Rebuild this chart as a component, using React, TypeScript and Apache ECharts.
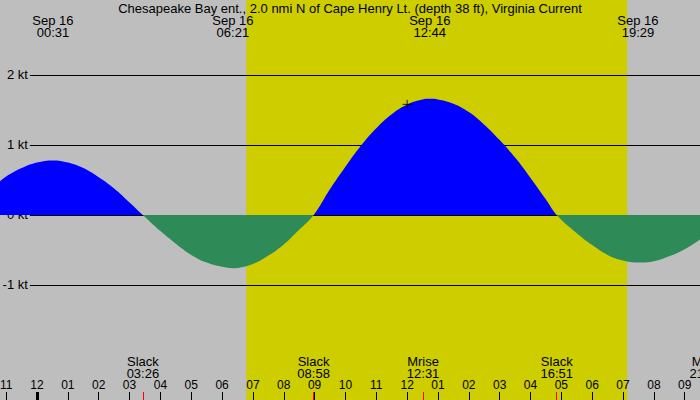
import React, { useEffect, useRef } from 'react';
import * as echarts from 'echarts';

const title = 'Chesapeake Bay ent., 2.0 nmi N of Cape Henry Lt. (depth 38 ft), Virginia Current';

// current speed in knots, hours from midnight Sep 16 (negative = evening of Sep 15)
const hours = [
    -1.2, -1, -0.5, 0, 0.52, 1, 1.5, 2, 2.5, 3,
    3.43, 4, 4.5, 5, 5.5, 6, 6.35, 7, 7.5, 8,
    8.5, 8.97, 9.5, 10, 10.5, 11, 11.5, 12, 12.5, 12.73,
    13, 13.5, 14, 14.5, 15, 15.5, 16, 16.5, 16.85, 17.5,
    18, 18.5, 19, 19.48, 20, 20.5, 21, 21.5, 22
];
const knots = [
    0.48, 0.55, 0.67, 0.75, 0.78, 0.75, 0.67, 0.54, 0.38, 0.18,
    0, -0.23, -0.41, -0.57, -0.68, -0.74, -0.76, -0.70, -0.58, -0.42,
    -0.21, 0, 0.37, 0.69, 0.99, 1.24, 1.44, 1.58, 1.65, 1.66,
    1.65, 1.59, 1.47, 1.29, 1.07, 0.82, 0.53, 0.22, 0, -0.26,
    -0.43, -0.57, -0.65, -0.68, -0.66, -0.59, -0.49, -0.35, -0.19
];

// max flood / ebb times shown along the top
const maxDate = 'Sep 16';
const maxTimes = [0.517, 6.35, 12.733, 19.483];
const maxClocks = ['00:31', '06:21', '12:44', '19:29'];

// slack and moon events shown along the bottom
const eventTimes = [3.433, 8.967, 12.517, 16.85, 21.683];
const eventNames = ['Slack', 'Slack', 'Mrise', 'Slack', 'Mset'];
const eventClocks = ['03:26', '08:58', '12:31', '16:51', '21:41'];

const sunrise = 6.783;
const sunset = 19.133;

const hourTicks = [-1, 0, 1, 2, 3, 4, 5, 6, 7, 8, 9, 10, 11, 12, 13, 14, 15, 16, 17, 18, 19, 20, 21, 22];
const midnightTicks = [0];
const knotTicks = [2, 1, 0, -1];

const markerTime = 12;
const markerKnots = 1.58;

// grid is a bit wider than the page so that the last labels get cut at the edge
const X_MIN = -1.2;
const X_MAX = 22.5;
const GRID_W = 731;
const Y_MIN = -2.643;
const Y_MAX = 3.071;
const CHART_H = 400;
const LINE_START = -0.23;
const FONT = 'Liberation Sans';
const FLOOD = '#0000FF';
const EBB = '#2E8B57';

const pad2 = (n: number) => (n < 10 ? '0' + n : '' + n);
const fmtHour = (v: number) => {
    const h = ((Math.round(v) % 12) + 12) % 12;
    return pad2(h === 0 ? 12 : h);
};
const findIdx = (arr: number[], v: number) => arr.findIndex((t) => Math.abs(t - v) < 1e-6);

const ChesapeakeCurrent: React.FC = () => {
    const chartRef = useRef<HTMLDivElement>(null);

    useEffect(() => {
        document.body.style.margin = '0';
        if (!chartRef.current) return;
        const myChart = echarts.init(chartRef.current, undefined, { renderer: 'svg' });

        // flood above the zero line, ebb below it
        const zeroAt = Y_MAX / (Y_MAX - Y_MIN);
        const fill = new echarts.graphic.LinearGradient(0, 0, 0, CHART_H, [
            { offset: 0, color: FLOOD },
            { offset: zeroAt, color: FLOOD },
            { offset: zeroAt, color: EBB },
            { offset: 1, color: EBB },
        ], true);

        const baseX = {
            type: 'value' as const,
            min: X_MIN,
            max: X_MAX,
            z: 10,
            axisLine: { show: false, onZero: false },
            splitLine: { show: false },
        };
        const labelText = { color: '#000', fontFamily: FONT, fontSize: 13 };

        const option: any = {
            animation: false,
            backgroundColor: '#BEBEBE',
            title: {
                text: title,
                left: 'center',
                top: 2,
                padding: 0,
                textStyle: { ...labelText, fontWeight: 'normal' },
            },
            grid: { left: 0, top: 0, width: GRID_W, height: CHART_H, containLabel: false, outerBoundsMode: 'none' },
            xAxis: [
                {
                    ...baseX,
                    position: 'bottom',
                    axisTick: { inside: true, length: 8, lineStyle: { color: '#000' }, customValues: hourTicks },
                    axisLabel: {
                        inside: true, margin: 9, customValues: hourTicks,
                        formatter: fmtHour, ...labelText, fontSize: 12,
                    },
                },
                {
                    ...baseX,
                    position: 'bottom',
                    axisTick: { inside: true, length: 8, lineStyle: { color: '#FF0000' }, customValues: eventTimes },
                    axisLabel: {
                        inside: true, margin: 21, customValues: eventTimes, lineHeight: 12,
                        formatter: (v: number) => {
                            const i = findIdx(eventTimes, v);
                            return i < 0 ? '' : eventNames[i] + '\n' + eventClocks[i];
                        },
                        ...labelText,
                    },
                },
                {
                    ...baseX,
                    position: 'bottom',
                    axisTick: { inside: true, length: 8, lineStyle: { color: '#000', width: 3 }, customValues: midnightTicks },
                    axisLabel: { show: false },
                },
                {
                    ...baseX,
                    position: 'top',
                    axisTick: { show: false },
                    axisLabel: {
                        inside: true, margin: 14, customValues: maxTimes, lineHeight: 12,
                        formatter: (v: number) => {
                            const i = findIdx(maxTimes, v);
                            return i < 0 ? '' : maxDate + '\n' + maxClocks[i];
                        },
                        ...labelText,
                    },
                },
            ],
            yAxis: { type: 'value', min: Y_MIN, max: Y_MAX, show: false },
            series: [
                {
                    name: 'Current',
                    type: 'line',
                    data: hours.map((h, i) => [h, knots[i]]),
                    smooth: 0.4,
                    showSymbol: false,
                    silent: true,
                    z: 3,
                    lineStyle: { opacity: 0 },
                    areaStyle: { opacity: 1, color: fill, origin: 0 },
                    markArea: {
                        silent: true,
                        z: 1,
                        itemStyle: { color: '#CDCD00' },
                        data: [[{ xAxis: sunrise }, { xAxis: sunset }]],
                    },
                    markLine: {
                        silent: true,
                        z: 2,
                        symbol: ['none', 'none'],
                        lineStyle: { color: '#000', width: 1, type: 'solid' },
                        label: { position: 'start', distance: 2, formatter: '{b}', ...labelText },
                        data: knotTicks.map((v) => [
                            { coord: [LINE_START, v], name: v + ' kt' },
                            { coord: [X_MAX, v] },
                        ]),
                    },
                },
                {
                    type: 'scatter',
                    silent: true,
                    z: 4,
                    data: [[markerTime, markerKnots]],
                    symbol: 'path://M0,5L10,5M5,0L5,10',
                    symbolSize: 9,
                    itemStyle: { color: 'none', borderColor: '#000', borderWidth: 1 },
                },
            ],
        };
        myChart.setOption(option);

        return () => {
            myChart.dispose();
        };
    }, []);

    return <div ref={chartRef} style={{ width: '700px', height: '400px' }} />;
};

export default ChesapeakeCurrent;
